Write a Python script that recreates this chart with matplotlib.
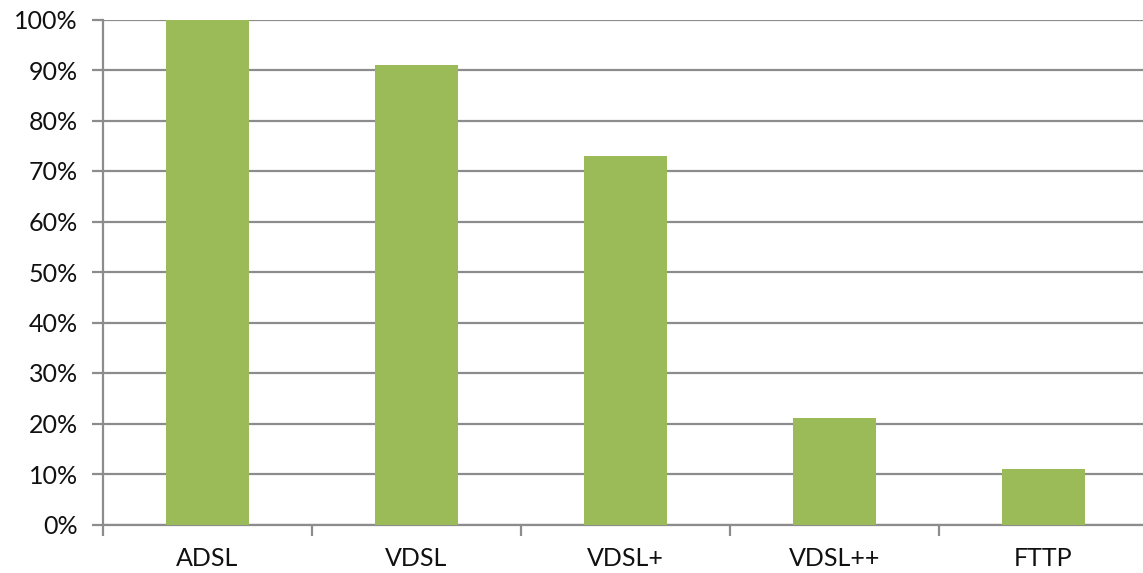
import matplotlib
matplotlib.use("Agg")
import matplotlib.pyplot as plt
from matplotlib.ticker import FixedLocator, FuncFormatter

categories = ["ADSL", "VDSL", "VDSL+", "VDSL++", "FTTP"]
values = [100, 91, 73, 21, 11]
y_ticks = [0, 10, 20, 30, 40, 50, 60, 70, 80, 90, 100]

plt.rcParams['font.family'] = ['Lato', 'DejaVu Sans']

W, H = 1143, 573
fig = plt.figure(figsize=(W / 100, H / 100), dpi=100)
left, right = 103 / W, 1.0
bottom, top = (H - 524.5) / H, (H - 19.5) / H
ax = fig.add_axes([left, bottom, right - left, top - bottom])

grid_color = "#8c8c8c"
bar_color = "#9bbb59"

x = list(range(len(categories)))
ax.bar(x, values, width=0.397, color=bar_color, zorder=3)

# each category slot is 209 px wide; the plot runs off the right edge
cat_px = 209.0
span = (W * (right - left)) / cat_px
ax.set_xlim(-0.5, -0.5 + span)
ax.set_ylim(0, 100)

ax.yaxis.set_major_locator(FixedLocator(y_ticks))
ax.yaxis.set_major_formatter(FuncFormatter(lambda v, p: f"{int(v)}%"))
ax.grid(axis="y", color=grid_color, linewidth=1.6, zorder=0)
ax.set_axisbelow(True)

# category boundaries carry the tick marks, labels sit at centres
ax.set_xticks([i - 0.5 for i in range(len(categories))])
ax.set_xticklabels([])
ax.set_xticks(x, minor=True)
ax.set_xticklabels(categories, minor=True)
ax.tick_params(axis="x", which="major", length=8, width=1.6, color=grid_color, direction="out")
ax.tick_params(axis="x", which="minor", length=0, pad=16, labelsize=18, labelcolor="#111111")
ax.tick_params(axis="y", length=8, width=1.6, color=grid_color, direction="out", pad=10,
               labelsize=18, labelcolor="#111111")

for side in ["top", "right"]:
    ax.spines[side].set_visible(False)
for side in ["left", "bottom"]:
    ax.spines[side].set_color(grid_color)
    ax.spines[side].set_linewidth(1.6)

fig.savefig("out.png", dpi=100)
